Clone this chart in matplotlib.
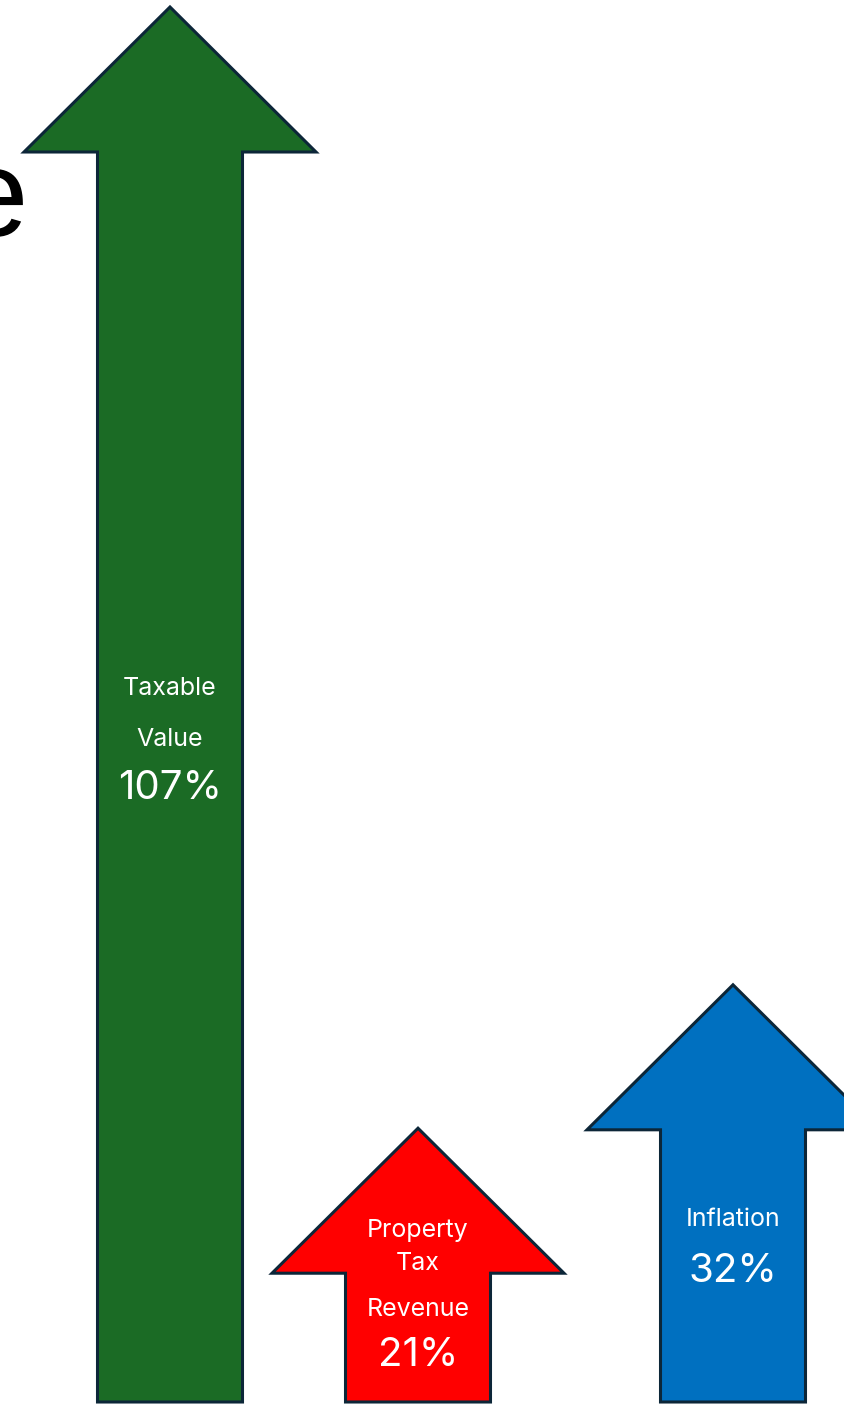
import matplotlib
matplotlib.use("Agg")
import matplotlib.pyplot as plt
from matplotlib.patches import Polygon

# values shown on the arrows (percent change)
values = [107, 21, 32]
colors = ["#1b6b25", "#ff0000", "#0070c0"]

W, H = 845, 1404
fig = plt.figure(figsize=(W / 100, H / 100), dpi=100)
ax = fig.add_axes([0, 0, 1, 1])
ax.set_xlim(0, W)
# y axis in percent units: baseline 2px above bottom, 107% tip 7px below top
upp = values[0] / 1395.0          # units per pixel
ax.set_ylim(-2 * upp, values[0] + 7 * upp)
ax.axis("off")

def py(p):
    # pixel row (from top) -> data y
    return (1402 - p) * upp

centers = [170, 418, 733]
shaft_hw = 72.5
head_hw = 146
head_h = 145 * upp

for cx, v, c in zip(centers, values, colors):
    top = v
    neck = v - head_h
    pts = [(cx - shaft_hw, 0), (cx - shaft_hw, neck), (cx - head_hw, neck),
           (cx, top), (cx + head_hw, neck), (cx + shaft_hw, neck),
           (cx + shaft_hw, 0)]
    ax.add_patch(Polygon(pts, closed=True, facecolor=c, edgecolor="#0c2638",
                         linewidth=2.2, joinstyle="miter", zorder=3))

# cut-off title letter at the left edge
ax.text(28, py(236), "e", fontsize=90, family="Liberation Sans",
        ha="right", va="baseline", color="black", zorder=1)

small = 18
big = 29
fam = ["Inter", "DejaVu Sans"]

# green arrow
ax.text(170, py(688), "Taxable", fontsize=small, family=fam, color="white",
        ha="center", va="center", zorder=4)
ax.text(170, py(739), "Value", fontsize=small, family=fam, color="white",
        ha="center", va="center", zorder=4)
ax.text(170, py(788), f"{values[0]}%", fontsize=big, family=fam, color="white",
        ha="center", va="center", zorder=4)

# red arrow
ax.text(418, py(1231), "Property", fontsize=small, family=fam, color="white",
        ha="center", va="center", zorder=4)
ax.text(418, py(1263), "Tax", fontsize=small, family=fam, color="white",
        ha="center", va="center", zorder=4)
ax.text(418, py(1309), "Revenue", fontsize=small, family=fam, color="white",
        ha="center", va="center", zorder=4)
ax.text(418, py(1356), f"{values[1]}%", fontsize=big, family=fam, color="white",
        ha="center", va="center", zorder=4)

# blue arrow
ax.text(733, py(1220), "Inflation", fontsize=small, family=fam, color="white",
        ha="center", va="center", zorder=4)
ax.text(733, py(1272), f"{values[2]}%", fontsize=big, family=fam, color="white",
        ha="center", va="center", zorder=4)

fig.savefig("out.png", dpi=100, facecolor="white")
